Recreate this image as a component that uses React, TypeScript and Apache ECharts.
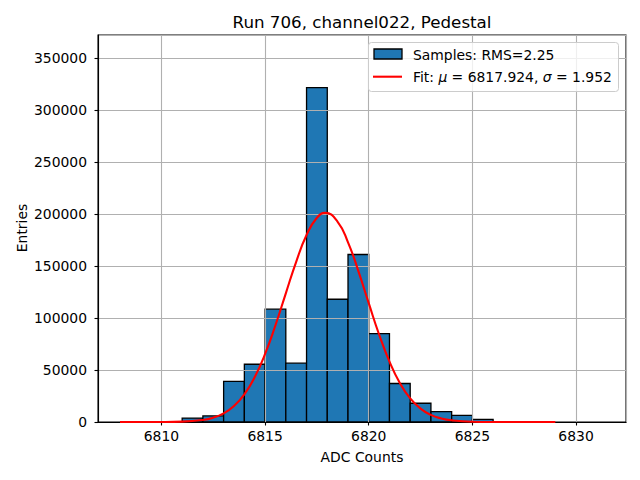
import React, { useEffect, useRef } from "react";
import * as echarts from "echarts";

// Histogram bins (left edges, width 1) and entries
const binStarts = [6811, 6812, 6813, 6814, 6815, 6816, 6817, 6818, 6819, 6820, 6821, 6822, 6823, 6824, 6825];
const binCounts = [3800, 5800, 39000, 55500, 108500, 56500, 321500, 118000, 161000, 85000, 37000, 18000, 10000, 6400, 2600];
const binWidth = 1;

// Fit curve points
const fitX = [6808, 6809, 6810, 6811, 6812, 6812.5, 6813, 6813.5, 6814, 6814.5, 6815, 6815.5, 6816, 6816.5, 6817, 6817.5, 6817.9, 6818.5, 6819, 6819.5, 6820, 6820.5, 6821, 6821.5, 6822, 6822.5, 6823, 6823.5, 6824, 6825, 6826, 6827, 6828, 6829];
const fitY = [0, 5, 50, 370, 2000, 4200, 8300, 15400, 26600, 43200, 65400, 93000, 123700, 154000, 179700, 196300, 201000, 192400, 172700, 145100, 114200, 84100, 58100, 37500, 22700, 12900, 6800, 3400, 1600, 280, 40, 3, 0, 0];

const titleText = "Run 706, channel022, Pedestal";
const xLabel = "ADC Counts";
const yLabel = "Entries";
const legendSamples = "Samples: RMS=2.25";
const fitMu = "6817.924";
const fitSigma = "1.952";

const xMin = 6806.94;
const xMax = 6832.41;
const yMax = 372000;

export default function App() {
  const ref = useRef<HTMLDivElement>(null);
  useEffect(() => {
    const chart = echarts.init(ref.current!, null, { renderer: "svg" });
    const font = "DejaVu Sans";
    const fs = 13.9;
    const option: any = {
      animation: false,
      textStyle: { fontFamily: font },
      grid: {
        left: 98,
        top: 35,
        right: 14,
        bottom: 58,
        show: true,
        borderColor: "#000",
        borderWidth: 1.1,
        backgroundColor: "#fff",
      },
      xAxis: {
        type: "value",
        min: xMin,
        max: xMax,
        minInterval: 5,
        maxInterval: 5,
        z: 5,
        axisLine: { show: true, onZero: false, lineStyle: { color: "#000", width: 1.1 } },
        axisTick: { show: true, length: 3.5, lineStyle: { color: "#000", width: 1.1 } },
        axisLabel: {
          margin: 7,
          color: "#000",
          fontFamily: font,
          fontSize: fs,
          showMinLabel: false,
          showMaxLabel: false,
          formatter: (v: number) => (Math.abs(v % 5) < 1e-6 ? String(Math.round(v)) : ""),
        },
        splitLine: { show: true, lineStyle: { color: "#b0b0b0", width: 1.1 } },
      },
      yAxis: {
        type: "value",
        min: 0,
        max: yMax,
        minInterval: 50000,
        maxInterval: 50000,
        z: 5,
        axisLine: { show: true, lineStyle: { color: "#000", width: 1.1 } },
        axisTick: { show: true, length: 3.5, lineStyle: { color: "#000", width: 1.1 } },
        axisLabel: {
          margin: 11,
          color: "#000",
          fontFamily: font,
          fontSize: fs,
          showMaxLabel: false,
          formatter: (v: number) => (v % 50000 === 0 ? String(v) : ""),
        },
        splitLine: { show: true, lineStyle: { color: "#b0b0b0", width: 1.1 } },
      },
      series: [
        {
          type: "custom",
          z: 1,
          renderItem: (params: any, api: any) => {
            const x0 = api.value(0);
            const x1 = api.value(1);
            const y = api.value(2);
            const p0 = api.coord([x0, y]);
            const p1 = api.coord([x1, 0]);
            return {
              type: "rect",
              shape: { x: p0[0], y: p0[1], width: p1[0] - p0[0], height: p1[1] - p0[1] },
              style: { fill: "#1f77b4", stroke: "#000", lineWidth: 1.3 },
            };
          },
          encode: { x: [0, 1], y: 2 },
          data: binStarts.map((s, i) => [s, s + binWidth, binCounts[i]]),
        },
        {
          type: "line",
          z: 10,
          smooth: true,
          symbol: "none",
          lineStyle: { color: "#ff0000", width: 2.1 },
          data: fitX.map((x, i) => [x, fitY[i]]),
        },
      ],
      graphic: [
        {
          type: "text",
          x: 362,
          y: 21.5,
          style: { text: titleText, fontFamily: font, fontSize: 16.7, fill: "#000", align: "center", verticalAlign: "middle" },
        },
        {
          type: "text",
          x: 362,
          y: 457,
          style: { text: xLabel, fontFamily: font, fontSize: fs, fill: "#000", align: "center", verticalAlign: "middle" },
        },
        {
          type: "text",
          x: 22,
          y: 228,
          rotation: Math.PI / 2,
          style: { text: yLabel, fontFamily: font, fontSize: fs, fill: "#000", align: "center", verticalAlign: "middle" },
        },
        {
          type: "rect",
          z: 100,
          shape: { x: 368.5, y: 42.5, width: 250, height: 49, r: 3 },
          style: { fill: "rgba(255,255,255,0.8)", stroke: "#cccccc", lineWidth: 1 },
        },
        {
          type: "rect",
          z: 101,
          shape: { x: 374, y: 49, width: 28, height: 10 },
          style: { fill: "#1f77b4", stroke: "#000", lineWidth: 1.3 },
        },
        {
          type: "text",
          z: 101,
          x: 413,
          y: 54.5,
          style: { text: legendSamples, fontFamily: font, fontSize: fs, fill: "#000", verticalAlign: "middle" },
        },
        {
          type: "line",
          z: 101,
          shape: { x1: 373, y1: 76.7, x2: 402, y2: 76.7 },
          style: { stroke: "#ff0000", lineWidth: 2.1 },
        },
        {
          type: "text",
          z: 101,
          x: 413,
          y: 77,
          style: {
            text: "{n|Fit: }{i|μ}{n| = " + fitMu + ", }{i|σ}{n| = " + fitSigma + "}",
            verticalAlign: "middle",
            rich: {
              n: { fontFamily: font, fontSize: fs, fill: "#000", color: "#000" },
              i: { fontFamily: font, fontSize: fs, fontStyle: "italic", fill: "#000", color: "#000" },
            },
          },
        },
      ],
    };
    chart.setOption(option);
    return () => chart.dispose();
  }, []);
  return <div ref={ref} style={{ position: "absolute", left: 0, top: 0, width: 640, height: 480 }} />;
}
